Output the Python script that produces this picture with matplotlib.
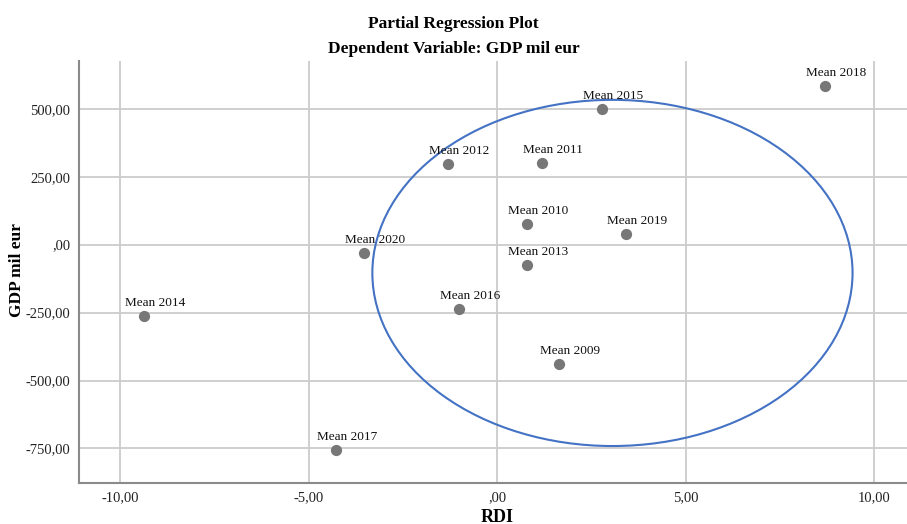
import numpy as np
import matplotlib.pyplot as plt
from matplotlib.patches import Ellipse
from matplotlib.ticker import FuncFormatter

labels = ['Mean 2009', 'Mean 2010', 'Mean 2011', 'Mean 2012', 'Mean 2013', 'Mean 2014',
          'Mean 2015', 'Mean 2016', 'Mean 2017', 'Mean 2018', 'Mean 2019', 'Mean 2020']
rdi = [1.63, 0.79, 1.18, -1.30, 0.79, -9.36, 2.77, -1.01, -4.27, 8.71, 3.42, -3.54]
gdp = [-438, 75, 302, 297, -74, -261, 500, -238, -757, 585, 40, -31]

xticks = [-10, -5, 0, 5, 10]
yticks = [-750, -500, -250, 0, 250, 500]

# ellipse drawn by hand in the original
ell_center = (3.06, -104)
ell_width = 12.74
ell_height = 1274

plt.rcParams['font.family'] = ['Liberation Serif', 'DejaVu Serif']

fig = plt.figure(figsize=(9.07, 5.24), dpi=100)
ax = fig.add_axes([0.0868, 0.0788, 0.913, 0.8048])

ax.set_xlim(-11.10, 10.87)
ax.set_ylim(-876, 676)
ax.set_xticks(xticks)
ax.set_yticks(yticks)

def comma_fmt(v, pos):
    s = '{:.2f}'.format(v).replace('.', ',')
    if s.startswith('0,'):
        s = s[1:]
    elif s.startswith('-0,'):
        s = s[2:]
    return s

ax.xaxis.set_major_formatter(FuncFormatter(comma_fmt))
ax.yaxis.set_major_formatter(FuncFormatter(comma_fmt))
ax.tick_params(length=0, labelsize=10.5, pad=6, colors='#222222')

ax.grid(True, color='#cccccc', linewidth=1.3)
ax.set_axisbelow(True)
for s in ['top', 'right']:
    ax.spines[s].set_visible(False)
for s in ['left', 'bottom']:
    ax.spines[s].set_color('#8a8a8a')
    ax.spines[s].set_linewidth(1.5)

ax.scatter(rdi, gdp, s=50, color='#777777', zorder=3)
for lab, x, y in zip(labels, rdi, gdp):
    ax.annotate(lab, (x, y), xytext=(8, 5), textcoords='offset points',
                ha='center', va='bottom', fontsize=9.5, color='#111111')

ax.add_patch(Ellipse(ell_center, ell_width, ell_height, fill=False,
                     edgecolor='#4472c4', linewidth=1.5, zorder=2))

fig.text(497 / 907, 1 - 517 / 524, 'RDI', ha='center', va='center',
         fontsize=13, fontweight='bold')
fig.text(17 / 907, 1 - 270 / 524, 'GDP mil eur', ha='center', va='center', rotation=90,
         fontsize=12.5, fontweight='bold')

fig.text(0.5, 0.954, 'Partial Regression Plot', ha='center', va='center',
         fontsize=12.5, fontweight='bold')
fig.text(0.5, 0.906, 'Dependent Variable: GDP mil eur', ha='center', va='center',
         fontsize=12.5, fontweight='bold')

fig.savefig('out.png', dpi=100)
